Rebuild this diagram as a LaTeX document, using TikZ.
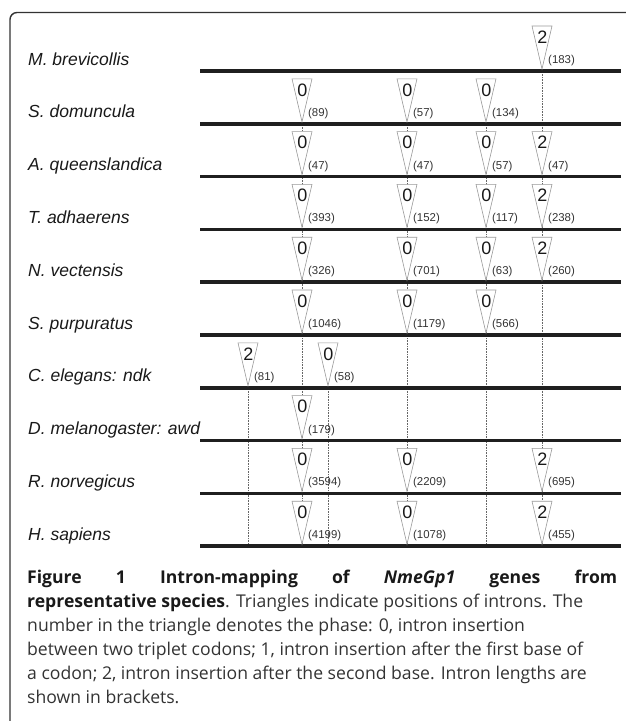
\documentclass[tikz,border=0pt]{standalone}
\usepackage{fontspec}
\setmainfont{Open Sans}
\newfontfamily\arialfont{Liberation Sans}
\usetikzlibrary{positioning}

\begin{document}
\begin{tikzpicture}[
        x=1pt, y=-1pt,
        frame/.style={draw=black!80, line width=1.4pt, rounded corners=7pt},
        genebar/.style={draw=black!88, line width=3.6pt},
        guide/.style={draw=black!60, line width=0.6pt, densely dotted},
        introntri/.style={draw=black!40, fill=white, line width=0.6pt},
        species/.style={anchor=base west, inner sep=0pt, font=\arialfont\itshape\fontsize{17.5}{17.5}\selectfont, text=black!90},
        phase/.style={inner sep=0pt, font=\arialfont\fontsize{18}{18}\selectfont, text=black!90},
        intronlen/.style={anchor=west, inner sep=0pt, font=\arialfont\fontsize{11.4}{11.4}\selectfont, text=black!80},
        caption/.style={anchor=base west, inner sep=0pt, font=\fontsize{17.6}{17.6}\selectfont, text=black!80}
    ]
        \useasboundingbox (0,0) rectangle (625,721);
        \draw[frame] (10,730) -- (10,12.5) -- (632,12.5);

        % bottom ends of the position guides
        \coordinate (a-end) at (248,546);
        \coordinate (b-end) at (302,546);
        \coordinate (c-end) at (328,546);
        \coordinate (d-end) at (407,546);
        \coordinate (e-end) at (486,546);
        \coordinate (f-end) at (542,546);
        \coordinate (mb-f) at (542,69);
        \coordinate (sd-b) at (302,122);
        \coordinate (sd-d) at (407,122);
        \coordinate (sd-e) at (486,122);
        \coordinate (ce-a) at (248,386);
        \coordinate (ce-c) at (328,386);

        \draw[guide] (mb-f) -- (f-end);
        \draw[guide] (sd-b) -- (b-end);
        \draw[guide] (sd-d) -- (d-end);
        \draw[guide] (sd-e) -- (e-end);
        \draw[guide] (ce-a) -- (a-end);
        \draw[guide] (ce-c) -- (c-end);

        % species rows
        \foreach \y/\sp/\txt in {71/mb/M. brevicollis, 123.8/sd/S. domuncula, 176.6/aq/A. queenslandica,
                229.4/ta/T. adhaerens, 282.2/nv/N. vectensis, 335/spu/S. purpuratus,
                387.8/ce/C. elegans: ndk, 440.6/dm/D. melanogaster: awd, 493.4/rn/R. norvegicus, 546.2/hs/H. sapiens}{
            \coordinate (\sp-start) at (200,\y);
            \coordinate (\sp-stop) at (621,\y);
            \draw[genebar] (\sp-start) -- (\sp-stop);
            \node[species] (\sp) at (28,\y-6) {\txt};
        }

        % introns: position / row / phase / length
        \foreach \x/\y/\ph/\len [count=\i] in {542/71/2/183,
                302/123.8/0/89, 407/123.8/0/57, 486/123.8/0/134,
                302/176.6/0/47, 407/176.6/0/47, 486/176.6/0/57, 542/176.6/2/47,
                302/229.4/0/393, 407/229.4/0/152, 486/229.4/0/117, 542/229.4/2/238,
                302/282.2/0/326, 407/282.2/0/701, 486/282.2/0/63, 542/282.2/2/260,
                302/335/0/1046, 407/335/0/1179, 486/335/0/566,
                248/387.8/2/81, 328/387.8/0/58,
                302/440.6/0/179,
                302/493.4/0/3594, 407/493.4/0/2209, 542/493.4/2/695,
                302/546.2/0/4199, 407/546.2/0/1078, 542/546.2/2/455}{
            \filldraw[introntri] (\x-10,\y-45) -- (\x+10,\y-45) -- (\x,\y-2) -- cycle;
            \node[phase] (ph\i) at (\x+0.5,\y-34) {\ph};
            \node[intronlen] (len\i) at (\x+6,\y-10.5) {(\len)};
        }

        % caption
        \node[caption] (cap1) at (27,583) {\makebox[590pt][s]{\bfseries\color{black!90}Figure 1 Intron-mapping of \textit{NmeGp1} genes from}};
        \node[caption] (cap2) at (27,607) {\textbf{\color{black!90}representative species}. Triangles indicate positions of introns. The};
        \node[caption] (cap3) at (27,631) {number in the triangle denotes the phase: 0, intron insertion};
        \node[caption] (cap4) at (27,655) {between two triplet codons; 1, intron insertion after the first base of};
        \node[caption] (cap5) at (27,679) {a codon; 2, intron insertion after the second base. Intron lengths are};
        \node[caption] (cap6) at (27,703) {shown in brackets.};

    \end{tikzpicture}
\end{document}
